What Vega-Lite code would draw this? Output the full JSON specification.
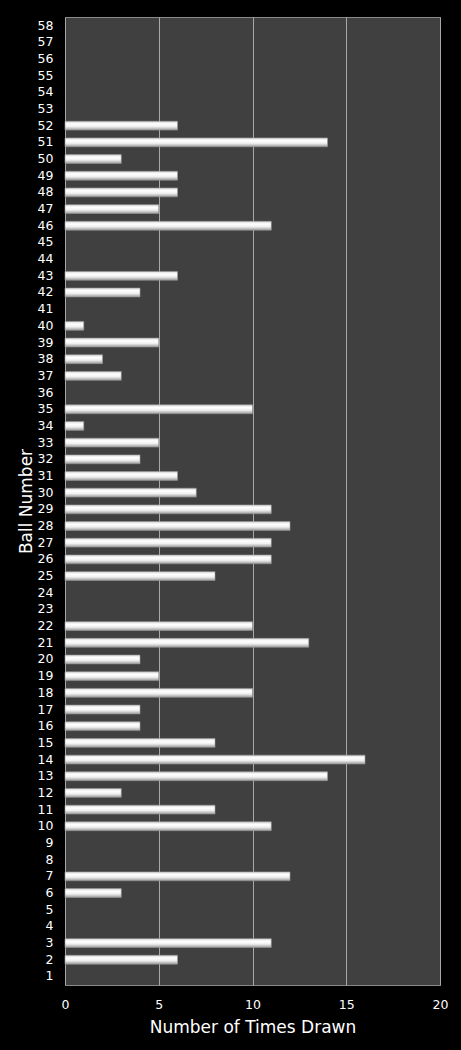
{
  "$schema": "https://vega.github.io/schema/vega-lite/v6.json",
  "autosize": "none",
  "width": 375,
  "height": 968,
  "padding": {"left": 65, "top": 17, "right": 21, "bottom": 65},
  "background": "#000000",
  "config": {
    "view": {"fill": "#404040", "stroke": "#8a8a8a", "strokeWidth": 1},
    "font": "DejaVu Sans",
    "axis": {"labelColor": "#ffffff", "titleColor": "#ffffff", "labelFont": "DejaVu Sans", "titleFont": "DejaVu Sans", "titleFontWeight": "normal"}
  },
  "data": {"values": [
    {"ball": 1, "count": 0}, {"ball": 2, "count": 6}, {"ball": 3, "count": 11}, {"ball": 4, "count": 0},
    {"ball": 5, "count": 0}, {"ball": 6, "count": 3}, {"ball": 7, "count": 12}, {"ball": 8, "count": 0},
    {"ball": 9, "count": 0}, {"ball": 10, "count": 11}, {"ball": 11, "count": 8}, {"ball": 12, "count": 3},
    {"ball": 13, "count": 14}, {"ball": 14, "count": 16}, {"ball": 15, "count": 8}, {"ball": 16, "count": 4},
    {"ball": 17, "count": 4}, {"ball": 18, "count": 10}, {"ball": 19, "count": 5}, {"ball": 20, "count": 4},
    {"ball": 21, "count": 13}, {"ball": 22, "count": 10}, {"ball": 23, "count": 0}, {"ball": 24, "count": 0},
    {"ball": 25, "count": 8}, {"ball": 26, "count": 11}, {"ball": 27, "count": 11}, {"ball": 28, "count": 12},
    {"ball": 29, "count": 11}, {"ball": 30, "count": 7}, {"ball": 31, "count": 6}, {"ball": 32, "count": 4},
    {"ball": 33, "count": 5}, {"ball": 34, "count": 1}, {"ball": 35, "count": 10}, {"ball": 36, "count": 0},
    {"ball": 37, "count": 3}, {"ball": 38, "count": 2}, {"ball": 39, "count": 5}, {"ball": 40, "count": 1},
    {"ball": 41, "count": 0}, {"ball": 42, "count": 4}, {"ball": 43, "count": 6}, {"ball": 44, "count": 0},
    {"ball": 45, "count": 0}, {"ball": 46, "count": 11}, {"ball": 47, "count": 5}, {"ball": 48, "count": 6},
    {"ball": 49, "count": 6}, {"ball": 50, "count": 3}, {"ball": 51, "count": 14}, {"ball": 52, "count": 6},
    {"ball": 53, "count": 0}, {"ball": 54, "count": 0}, {"ball": 55, "count": 0}, {"ball": 56, "count": 0},
    {"ball": 57, "count": 0}, {"ball": 58, "count": 0}
  ]},
  "transform": [{"filter": "datum.count > 0"}],
  "mark": {
    "type": "bar",
    "stroke": "#9a9a9a",
    "strokeWidth": 0.6,
    "color": {
      "gradient": "linear", "x1": 0, "y1": 0, "x2": 0, "y2": 1,
      "stops": [
        {"offset": 0, "color": "#d8d8d8"},
        {"offset": 0.3, "color": "#ffffff"},
        {"offset": 0.6, "color": "#f0f0f0"},
        {"offset": 1, "color": "#9c9c9c"}
      ]
    }
  },
  "encoding": {
    "y": {
      "field": "ball", "type": "ordinal",
      "scale": {"domain": [58,57,56,55,54,53,52,51,50,49,48,47,46,45,44,43,42,41,40,39,38,37,36,35,34,33,32,31,30,29,28,27,26,25,24,23,22,21,20,19,18,17,16,15,14,13,12,11,10,9,8,7,6,5,4,3,2,1], "paddingInner": 0.47, "paddingOuter": 0.25},
      "axis": {"title": "Ball Number", "titleFontSize": 17, "titlePadding": 2, "labelFontSize": 12.5, "labelPadding": 12, "ticks": false, "domain": false}
    },
    "x": {
      "field": "count", "type": "quantitative",
      "scale": {"domain": [0, 20]},
      "axis": {"title": "Number of Times Drawn", "titleFontSize": 17, "titlePadding": 9, "labelFontSize": 12.5, "labelPadding": 13, "ticks": false, "domain": false, "values": [0,5,10,15,20], "grid": true, "gridColor": "#a8a8a8", "gridWidth": 1, "gridOpacity": 1, "labelFlush": false}
    }
  }
}
